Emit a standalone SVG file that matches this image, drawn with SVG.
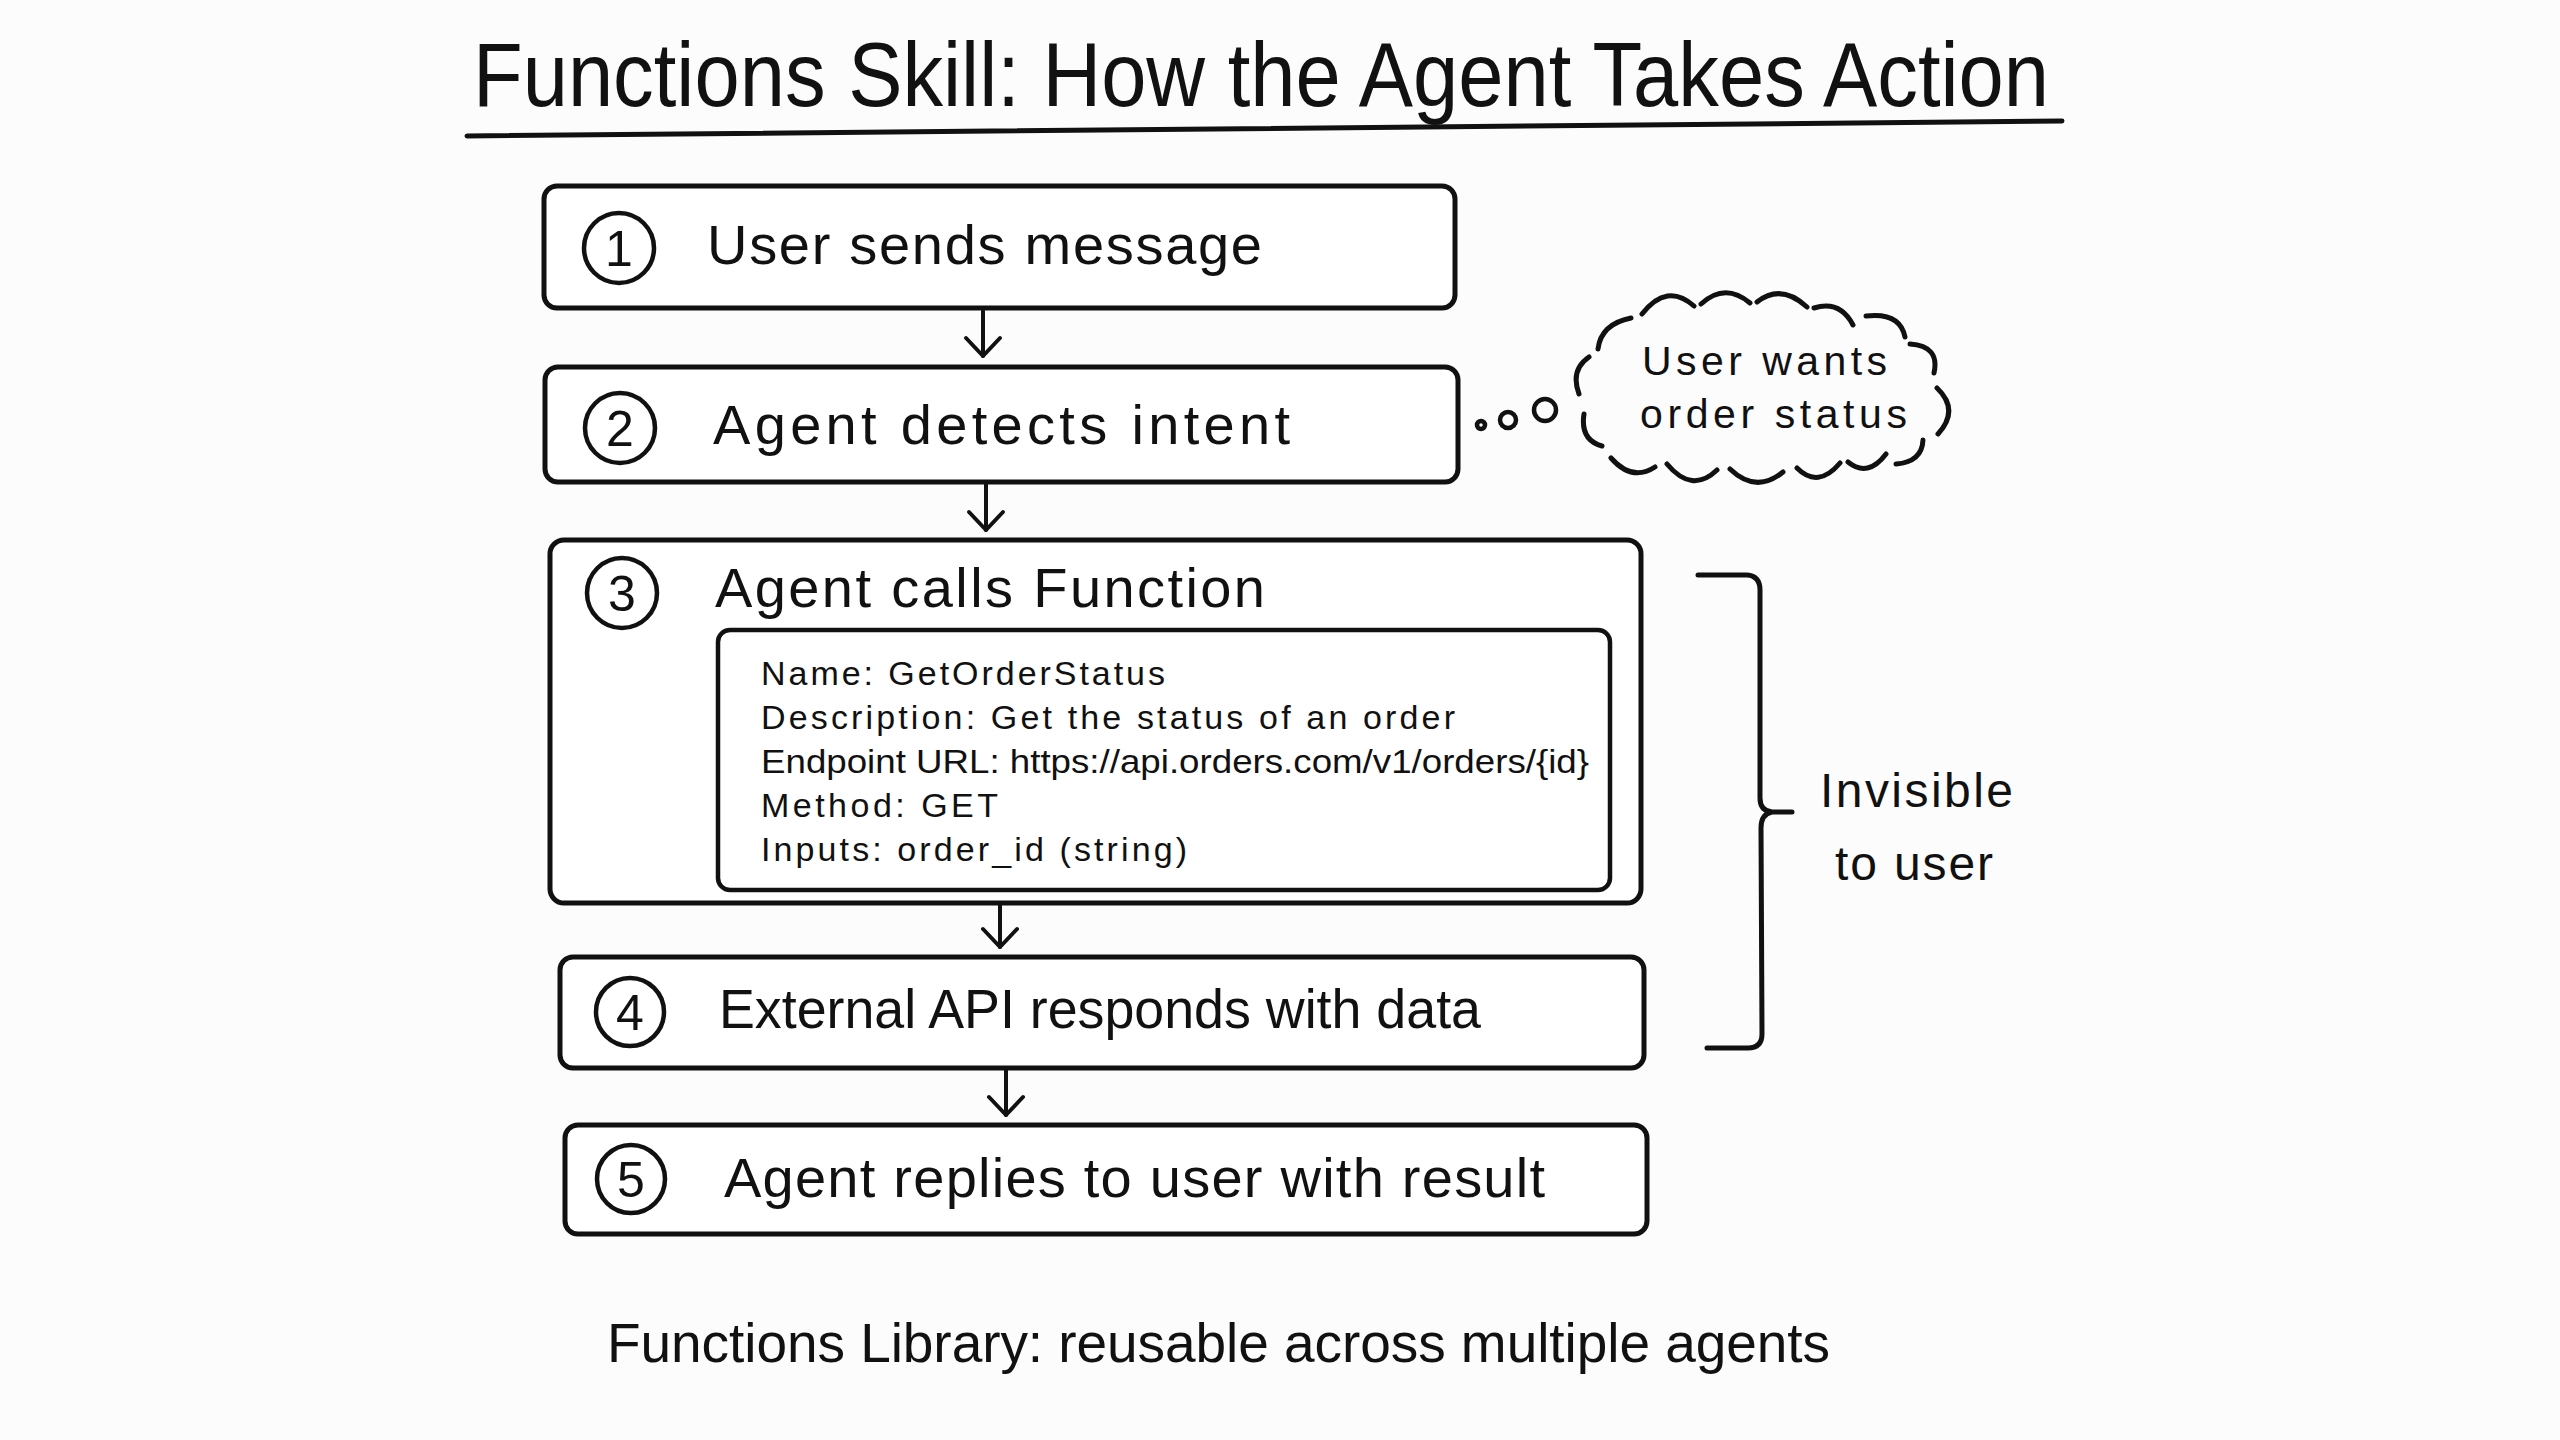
<svg xmlns="http://www.w3.org/2000/svg" width="2560" height="1440" viewBox="0 0 2560 1440">
<style>
  .bg{fill:#fcfcfc}
  .box{fill:#fff;stroke:#111;stroke-width:5;stroke-linejoin:round}
  .inner{fill:none;stroke:#111;stroke-width:4.5}
  .num{fill:none;stroke:#111;stroke-width:4.5}
  .ink{fill:none;stroke:#111;stroke-width:5;stroke-linecap:round;stroke-linejoin:round}
  .conn{fill:none;stroke:#111;stroke-width:4;stroke-linecap:round}
  text{font-family:"Liberation Sans",Arial,sans-serif;fill:#111}
  .title{font-size:90px}
  .lbl{font-size:56px}
  .digit{font-size:50px;text-anchor:middle}
  .small{font-size:34px}
  .think{font-size:41px}
  .side{font-size:48px}
  .foot{font-size:55px}
</style>
<defs>
  <marker id="head" viewBox="-22 -22 44 44" markerWidth="44" markerHeight="44" refX="0" refY="0" orient="auto" markerUnits="userSpaceOnUse" overflow="visible">
    <path d="M-18,-17 L0,0 L-18,17" fill="none" stroke="#111" stroke-width="4" stroke-linecap="round" stroke-linejoin="round"/>
  </marker>
</defs>
<rect class="bg" x="0" y="0" width="2560" height="1440"/>

<g id="title">
  <text class="title" x="473" y="106" textLength="1576" lengthAdjust="spacingAndGlyphs">Functions Skill: How the Agent Takes Action</text>
  <path class="ink" d="M467,136 L2062,121" stroke-width="6"/>
</g>

<g id="step1">
  <rect class="box" x="544" y="186" width="911" height="122" rx="13"/>
  <circle class="num" cx="619" cy="248" r="35"/>
  <text class="digit" x="619" y="266">1</text>
  <text class="lbl" x="707" y="264" textLength="555" lengthAdjust="spacing">User sends message</text>
</g>

<g id="step2">
  <rect class="box" x="545" y="367" width="913" height="115" rx="13"/>
  <circle class="num" cx="620" cy="428" r="35"/>
  <text class="digit" x="620" y="446">2</text>
  <text class="lbl" x="713" y="444" textLength="577" lengthAdjust="spacing">Agent detects intent</text>
</g>

<g id="thought">
  <circle class="num" cx="1481" cy="425" r="4" stroke-width="3.5"/>
  <circle class="num" cx="1508" cy="420" r="8" stroke-width="3.5"/>
  <circle class="num" cx="1545" cy="410" r="11" stroke-width="3.5"/>
  <path class="ink" stroke-width="4.5" d="
    M1598,349 Q1601,324 1631,318
    M1642,314 Q1667,282 1694,306
    M1701,304 Q1725,282 1750,303
    M1757,302 Q1781,283 1807,307
    M1814,308 Q1840,300 1853,325
    M1866,316 Q1900,312 1905,337
    M1910,344 Q1940,346 1934,373
    M1937,388 Q1960,410 1938,434
    M1923,440 Q1922,462 1896,464
    M1886,454 Q1868,478 1848,462
    M1840,463 Q1818,489 1797,468
    M1783,472 Q1756,494 1730,469
    M1717,470 Q1692,494 1667,464
    M1655,467 Q1632,482 1611,458
    M1602,446 Q1580,440 1584,414
    M1579,394 Q1570,370 1589,357"/>
  <text class="think" x="1642" y="375" textLength="245" lengthAdjust="spacing">User wants</text>
  <text class="think" x="1640" y="428" textLength="267" lengthAdjust="spacing">order status</text>
</g>

<g id="step3">
  <rect class="box" x="550" y="540" width="1091" height="363" rx="14"/>
  <circle class="num" cx="622" cy="593" r="35"/>
  <text class="digit" x="622" y="611">3</text>
  <text class="lbl" x="715" y="607" textLength="550" lengthAdjust="spacing">Agent calls Function</text>
  <g id="function-card">
    <rect class="inner" x="718" y="630" width="892" height="260" rx="12"/>
    <text class="small" x="761" y="685" textLength="404" lengthAdjust="spacing">Name: GetOrderStatus</text>
    <text class="small" x="761" y="729" textLength="694" lengthAdjust="spacing">Description: Get the status of an order</text>
    <text class="small" x="761" y="773" textLength="828" lengthAdjust="spacingAndGlyphs">Endpoint URL: https://api.orders.com/v1/orders/{id}</text>
    <text class="small" x="761" y="817" textLength="237" lengthAdjust="spacing">Method: GET</text>
    <text class="small" x="761" y="861" textLength="426" lengthAdjust="spacing">Inputs: order_id (string)</text>
  </g>
</g>

<g id="step4">
  <rect class="box" x="560" y="957" width="1084" height="111" rx="13"/>
  <circle class="num" cx="630" cy="1012" r="34"/>
  <text class="digit" x="630" y="1030">4</text>
  <text class="lbl" x="719" y="1028" textLength="762" lengthAdjust="spacingAndGlyphs">External API responds with data</text>
</g>

<g id="step5">
  <rect class="box" x="565" y="1125" width="1082" height="109" rx="13"/>
  <circle class="num" cx="631" cy="1179" r="34"/>
  <text class="digit" x="631" y="1197">5</text>
  <text class="lbl" x="724" y="1197" textLength="821" lengthAdjust="spacing">Agent replies to user with result</text>
</g>

<g id="invisible-note">
  <path class="ink" d="M1698,575 L1747,575 Q1760,576 1760,590 L1760,798 Q1760,811 1772,812 L1792,812 M1772,812 Q1761,814 1761,828 L1762,1034 Q1762,1048 1748,1048 L1707,1048"/>
  <text class="side" x="1820" y="807" textLength="193" lengthAdjust="spacing">Invisible</text>
  <text class="side" x="1835" y="880" textLength="158" lengthAdjust="spacing">to user</text>
</g>

<g id="connectors">
  <path class="conn" d="M983,311 L983,356" marker-end="url(#head)"/>
  <path class="conn" d="M986,483 L986,530" marker-end="url(#head)"/>
  <path class="conn" d="M1000,904 L1000,947" marker-end="url(#head)"/>
  <path class="conn" d="M1006,1069 L1006,1115" marker-end="url(#head)"/>
</g>

<g id="footer">
  <text class="foot" x="607" y="1362" textLength="1223" lengthAdjust="spacing">Functions Library: reusable across multiple agents</text>
</g>
</svg>
